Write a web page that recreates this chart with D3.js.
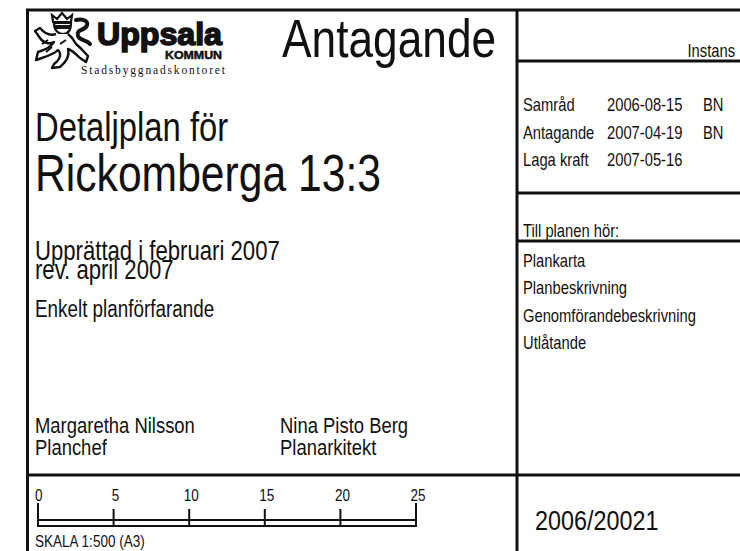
<!DOCTYPE html>
<head>
  <meta charset="utf-8">
  <script src="https://d3js.org/d3.v7.min.js"></script>
  <style>
    body {
      margin: 0;
      background: #fff;
    }
    svg text {
      font-family: "Liberation Sans", Arial, sans-serif;
      fill: #111;
    }
    .rule {
      stroke: #111;
      stroke-width: 3;
    }
    .thin {
      stroke: #111;
      stroke-width: 2;
    }
  </style>
</head>

<body>
  <div id="sheet"></div>

  <script>
    // title block content
    var stage = "Antagande";
    var planTitle = ["Detaljplan för", "Rickomberga 13:3"];
    var preparedLines = ["Upprättad i februari 2007", "rev. april 2007"];
    var procedure = "Enkelt planförfarande";
    var signers = ["Margaretha Nilsson", "Nina Pisto Berg"];
    var signerRoles = ["Planchef", "Planarkitekt"];

    var stepNames = ["Samråd", "Antagande", "Laga kraft"];
    var stepDates = ["2006-08-15", "2007-04-19", "2007-05-16"];
    var stepBodies = ["BN", "BN", ""];

    var documents = ["Plankarta", "Planbeskrivning", "Genomförandebeskrivning", "Utlåtande"];
    var caseNumber = "2006/20021";

    var scaleTicks = [0, 5, 10, 15, 20, 25];
    var scaleLabel = "SKALA 1:500 (A3)";

    var width = 740,
        height = 551,
        narrow = 0.82;   // Arial Narrow look: Liberation Sans squeezed sideways

    var svg = d3.select("#sheet").append("svg")
      .attr("width", width)
      .attr("height", height);

    function place(x, y) {
      return "translate(" + x + "," + y + ") scale(" + narrow + ",1)";
    }

    function label(g, x, y, size, txt) {
      return g.append("text")
        .attr("transform", place(x, y))
        .style("font-size", size + "px")
        .text(txt);
    }

    // frame
    var frame = svg.append("g");
    frame.append("line").attr("class", "rule").attr("x1", 26).attr("x2", width).attr("y1", 10).attr("y2", 10);
    frame.append("line").attr("class", "rule").attr("x1", 27.5).attr("x2", 27.5).attr("y1", 9).attr("y2", height);
    frame.append("line").attr("class", "rule").attr("x1", 517).attr("x2", 517).attr("y1", 9).attr("y2", height);
    frame.append("line").attr("class", "rule").attr("x1", 27).attr("x2", width).attr("y1", 475).attr("y2", 475);
    frame.append("line").attr("class", "rule").attr("x1", 517).attr("x2", width).attr("y1", 61).attr("y2", 61);
    frame.append("line").attr("class", "rule").attr("x1", 517).attr("x2", width).attr("y1", 193).attr("y2", 193);
    frame.append("line").attr("class", "rule").attr("x1", 517).attr("x2", width).attr("y1", 241).attr("y2", 241);

    // logo
    var logo = svg.append("g").attr("class", "logo");
    logo.append("path")
      .attr("d", "M53,22 L52,15 L57,19 L62,13 L67,19 L72,15 L71,22 Z")
      .attr("fill", "#fff").attr("stroke", "#111").attr("stroke-width", 2.2);
    logo.append("path")
      .attr("d", "M54,23 C54,30 58,34 63,34 C68,34 71,30 71,23 Z")
      .attr("fill", "#fff").attr("stroke", "#111").attr("stroke-width", 2.2);
    logo.append("rect").attr("x", 55).attr("y", 25).attr("width", 15).attr("height", 4).attr("fill", "#111");
    logo.append("path")
      .attr("d", "M56,34 C50,36 45,34 40,28 L35,31 L40,38 C44,44 50,44 54,42 " +
                 "C50,48 44,50 38,52 L36,60 L42,58 C48,56 54,54 58,50 " +
                 "C62,54 60,60 54,64 L52,68 L60,67 C66,62 70,56 68,49 " +
                 "C72,50 76,54 80,58 L86,62 L88,56 C84,52 80,47 76,44 " +
                 "C74,40 72,37 68,34")
      .attr("fill", "#fff").attr("stroke", "#111").attr("stroke-width", 2.4)
      .attr("stroke-linejoin", "round");
    logo.append("path")
      .attr("d", "M76,20 C84,18 90,22 86,27 C82,31 76,30 78,36 C80,41 88,40 90,44")
      .attr("fill", "none").attr("stroke", "#111").attr("stroke-width", 4)
      .attr("stroke-linecap", "round");
    logo.append("path")
      .attr("d", "M42,44 L48,40 M46,52 L52,47 M60,44 L66,40")
      .attr("fill", "none").attr("stroke", "#111").attr("stroke-width", 2);
    logo.append("text")
      .attr("x", 97).attr("y", 45)
      .attr("textLength", 125).attr("lengthAdjust", "spacingAndGlyphs")
      .style("font-weight", "bold")
      .style("font-size", "31px")
      .style("stroke", "#111").style("stroke-width", 1.6)
      .text("Uppsala");
    logo.append("text")
      .attr("x", 165).attr("y", 59)
      .attr("textLength", 57).attr("lengthAdjust", "spacingAndGlyphs")
      .style("font-weight", "bold")
      .style("font-size", "11px")
      .style("stroke", "#111").style("stroke-width", 0.5)
      .text("KOMMUN");
    logo.append("text")
      .attr("x", 81).attr("y", 74)
      .attr("textLength", 144).attr("lengthAdjust", "spacing")
      .style("font-family", "'Liberation Serif', 'DejaVu Serif', serif")
      .style("font-size", "11.5px")
      .text("Stadsbyggnadskontoret");

    // left panel texts
    var left = svg.append("g");
    label(left, 282, 57, 54, stage);
    label(left, 35, 141, 40, planTitle[0]);
    label(left, 35, 191, 52, planTitle[1]);

    left.selectAll("text.prepared")
        .data(preparedLines)
      .enter().append("text")
        .attr("class", "prepared")
        .attr("transform", function(d, i) { return place(35, 260 + i * 19); })
        .style("font-size", "27px")
        .text(function(d) { return d; });

    label(left, 35, 317, 23, procedure);

    var signerX = d3.scalePoint().domain(signers).range([35, 280]);
    left.selectAll("text.signer")
        .data(signers)
      .enter().append("text")
        .attr("class", "signer")
        .attr("transform", function(d) { return place(signerX(d), 433); })
        .style("font-size", "22.5px")
        .text(function(d) { return d; });
    left.selectAll("text.role")
        .data(signerRoles)
      .enter().append("text")
        .attr("class", "role")
        .attr("transform", function(d, i) { return place(signerX(signers[i]), 455); })
        .style("font-size", "22.5px")
        .text(function(d) { return d; });

    // scale bar
    var x = d3.scaleLinear().domain([0, 25]).range([38, 416]);
    var bar = svg.append("g");
    bar.append("line").attr("class", "thin").attr("x1", x(0)).attr("x2", x(25)).attr("y1", 520).attr("y2", 520);
    bar.append("line").attr("class", "thin").attr("x1", x(0)).attr("x2", x(25)).attr("y1", 526).attr("y2", 526);
    bar.selectAll("line.tick")
        .data(scaleTicks)
      .enter().append("line")
        .attr("class", "thin tick")
        .attr("x1", function(d) { return x(d); })
        .attr("x2", function(d) { return x(d); })
        .attr("y1", function(d, i) { return (i === 0 || i === scaleTicks.length - 1) ? 503 : 509; })
        .attr("y2", 527);
    bar.selectAll("text.tick")
        .data(scaleTicks)
      .enter().append("text")
        .attr("class", "tick")
        .attr("transform", function(d) { return place(d === 0 ? x(d) - 3 : x(d) + 2, 501); })
        .attr("text-anchor", function(d) { return d === 0 ? "start" : "middle"; })
        .style("font-size", "16.5px")
        .text(function(d) { return d; });
    label(bar, 35, 547, 16.5, scaleLabel);

    // right panel
    var right = svg.append("g");
    label(right, 735, 57, 18, "Instans").attr("text-anchor", "end");

    var stepY = d3.scalePoint().domain(stepNames).range([111, 166]);
    var cols = [stepNames, stepDates, stepBodies];
    var colX = [523, 607, 703];
    cols.forEach(function(col, c) {
      right.selectAll("text.col" + c)
          .data(col)
        .enter().append("text")
          .attr("class", "col" + c)
          .attr("transform", function(d, i) { return place(colX[c], stepY(stepNames[i])); })
          .style("font-size", "18px")
          .text(function(d) { return d; });
    });

    label(right, 523, 237, 18, "Till planen hör:");

    var docY = d3.scalePoint().domain(documents).range([267, 349]);
    right.selectAll("text.doc")
        .data(documents)
      .enter().append("text")
        .attr("class", "doc")
        .attr("transform", function(d) { return place(523, docY(d)); })
        .style("font-size", "18px")
        .text(function(d) { return d; });

    label(right, 535, 530, 28.5, caseNumber);
  </script>
</body>
